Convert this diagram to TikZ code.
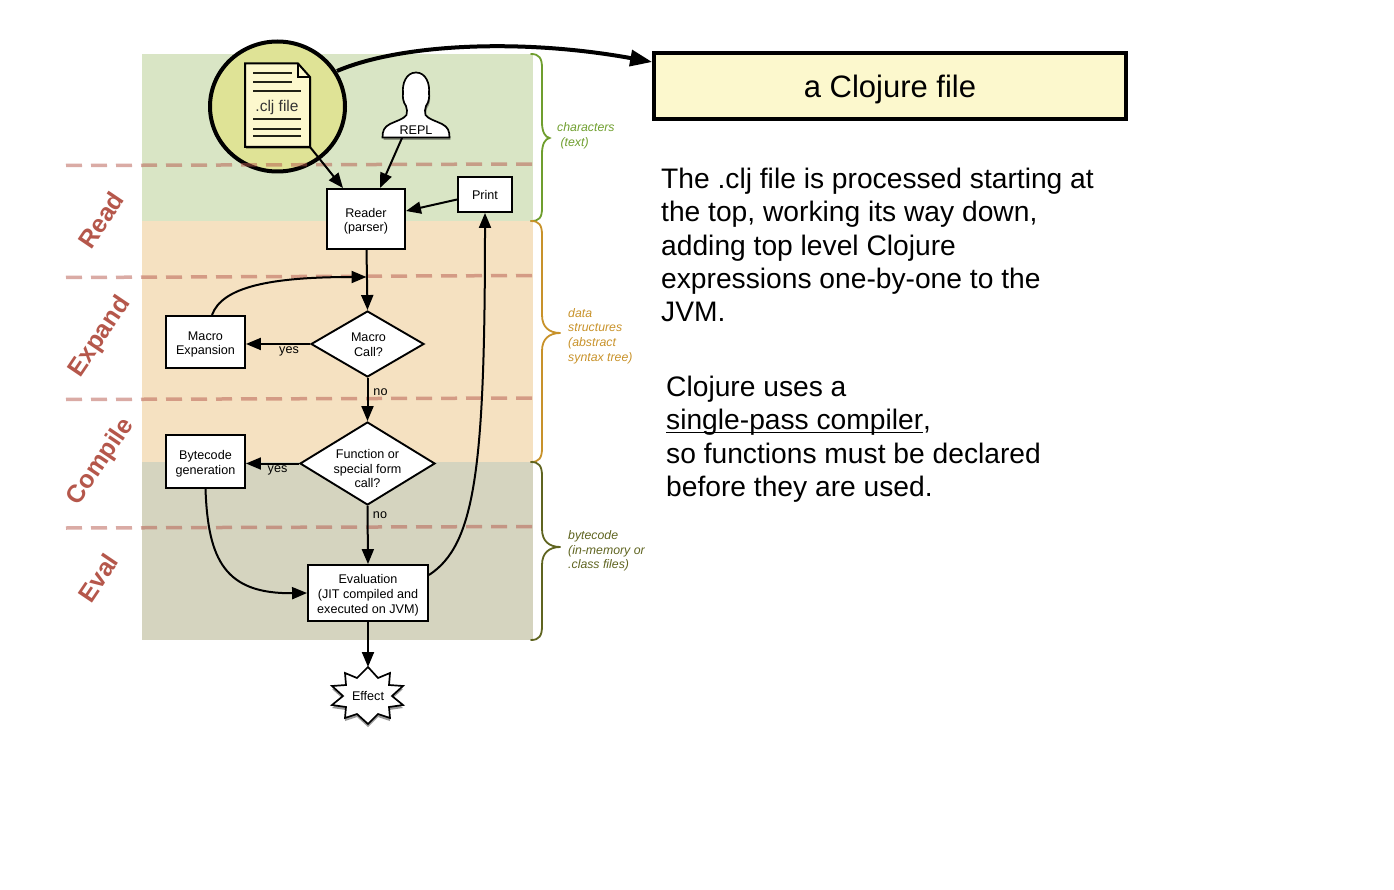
\documentclass[tikz,border=0pt]{standalone}
\usepackage{fontspec}
\setmainfont{Liberation Sans}
\usetikzlibrary{arrows.meta,shapes.geometric,shadows,calc}
\definecolor{bandgreen}{HTML}{D9E5C5}
\definecolor{bandorange}{HTML}{F5E1C1}
\definecolor{bandgrey}{HTML}{D5D4BF}
\definecolor{dashred}{HTML}{B5574B}
\definecolor{paleyellow}{HTML}{FCF8CD}
\definecolor{loupe}{HTML}{DFE396}
\definecolor{bracegreen}{HTML}{6F9E2E}
\definecolor{braceorange}{HTML}{C8922A}
\definecolor{braceolive}{HTML}{5F6420}
\newcommand{\lowered}[1]{\raisebox{0pt}[\dimexpr\height+5pt\relax][\depth]{\begin{tabular}{@{}c@{}}#1\end{tabular}}}
\newcommand{\lowline}[1]{\leavevmode\setbox0=\hbox{#1}\rlap{\rule[-3.4pt]{\wd0}{1.3pt}}\box0}
\tikzset{
  band/.style={draw=none},
  phase/.style={dashed,dash pattern=on 16pt off 9pt,draw=dashred,opacity=.5,line width=3.5pt},
  phasename/.style={text=dashred,font=\fontsize{25}{27}\selectfont\bfseries,rotate=56,inner sep=0pt},
  flowbox/.style={draw=black,fill=white,line width=1.9pt,inner sep=0pt,align=center,font=\fontsize{12.6}{14.6}\selectfont},
  decision/.style={diamond,draw=black,fill=white,line width=1.9pt,inner sep=0pt},
  flowtext/.style={align=center,inner sep=0pt,font=\fontsize{12.6}{14.6}\selectfont},
  flow/.style={draw=black,line width=2pt,-{Triangle[length=15pt,width=12pt]}},
  tag/.style={inner sep=0pt,font=\fontsize{12.6}{14}\selectfont},
  bracelabel/.style={inner sep=0pt,align=left,font=\fontsize{12.3}{14.7}\selectfont\itshape},
  bracepath/.style={line width=1.8pt,line cap=round},
  bodytext/.style={inner sep=0pt,align=left,anchor=north west,font=\fontsize{28.2}{33.2}\selectfont}
}
\begin{document}
\begin{tikzpicture}[x=1pt,y=-1pt]
\useasboundingbox (0,0) rectangle (1394,890);
% bands
\fill[band,bandgreen] (142,54) rectangle (533,221);
\fill[band,bandorange] (142,221) rectangle (533,462);
\fill[band,bandgrey] (142,462) rectangle (533,640);
% braces
\draw[bracepath,bracegreen] (531,54) .. controls (539,54) and (542,58) .. (542,68) -- (542,122) .. controls (542,132) and (545,137) .. (549.5,138) .. controls (545,139) and (542,144) .. (542,154) -- (542,208) .. controls (542,218) and (539,221) .. (531,221);
\draw[bracepath,braceorange] (531,221) .. controls (539,221) and (542,225) .. (542,235) -- (542,315) .. controls (542,327) and (549,333) .. (560.5,333) .. controls (549,333) and (542,339) .. (542,351) -- (542,448) .. controls (542,458) and (539,462) .. (531,462);
\draw[bracepath,braceolive] (531,462) .. controls (539,462) and (542,466) .. (542,476) -- (542,529) .. controls (542,541) and (549,547) .. (560.5,547) .. controls (549,547) and (542,553) .. (542,565) -- (542,626) .. controls (542,636) and (539,640) .. (531,640);
\node[bracelabel,text=bracegreen,anchor=west] (bl1) at (557,135.5) {characters\\\ (text)};
\node[bracelabel,text=braceorange,anchor=west] (bl2) at (568,336) {data\\structures\\(abstract\\syntax tree)};
\node[bracelabel,text=braceolive,anchor=west] (bl3) at (568,551) {bytecode\\(in-memory or\\.class files)};
% loupe and file
\draw[line width=4pt,fill=loupe] (277.5,106.5) ellipse (67.5 and 65);
\path[fill=paleyellow,draw=black,line width=2pt,line join=miter,drop shadow={shadow xshift=1pt,shadow yshift=-2pt,opacity=.3,fill=black}] (245,63.5) -- (298,63.5) -- (310,77) -- (310,147) -- (245,147) -- cycle;
\draw[line width=1.4pt] (298,63.5) -- (298,77) -- (310,77);
\foreach \yy/\xx in {72.7/292,81.7/292,91/301,119/301,128.7/301,136/301}
  \draw[line width=1.7pt,black!85!loupe] (253,\yy) -- (\xx,\yy);
\node[inner sep=0pt,font=\fontsize{15.5}{17}\selectfont,text=black!80] (cljfile) at (277,107) {.clj file};
\coordinate (filecorner) at (310,147);
% person
\path[fill=white,draw=black,line width=1.7pt,drop shadow={shadow xshift=1pt,shadow yshift=-2.5pt,opacity=.35,fill=black}]
  (382.5,137.5) .. controls (382.5,131) and (384,127) .. (390,124)
  .. controls (396,121) and (404,119) .. (406.5,115)
  .. controls (407.5,112) and (407,109) .. (406,106)
  .. controls (403,102) and (402.5,97) .. (403,93)
  .. controls (402,84) and (406,72.5) .. (416,72.5)
  .. controls (426,72.5) and (430,84) .. (429,93)
  .. controls (429.5,97) and (429,102) .. (426,106)
  .. controls (425,109) and (424.5,112) .. (425.5,115)
  .. controls (428,119) and (436,121) .. (442,124)
  .. controls (448,127) and (449.5,131) .. (449.5,137.5) -- cycle;
\node[tag] (repl) at (416,130) {REPL};
\coordinate (replfoot) at (402,138);
% starburst
\path[fill=white,draw=black,line width=1.7pt,line join=miter,drop shadow={shadow xshift=0pt,shadow yshift=-3pt,opacity=.4,fill=black}]
  (368,667) -- (378,678) -- (390,673) -- (389,685) -- (403,686) -- (392,696) -- (403,705) -- (389,707) -- (390,718) -- (378,714) -- (368,724) -- (357,714) -- (345,718) -- (346,707) -- (332,705) -- (343,696) -- (332,686) -- (346,685) -- (345,673) -- (357,678) -- cycle;
\node[tag] (effect) at (368,695.5) {Effect};
\coordinate (effecttop) at (368,667);
% boxes
\node[flowbox,minimum width=78pt,minimum height=60pt] (reader) at (366,219) {\lowered{Reader\\(parser)}};
\node[flowbox,minimum width=54pt,minimum height=35pt] (print) at (485,194.5) {Print};
\node[flowbox,minimum width=79pt,minimum height=52pt] (macroexp) at (205.5,342) {\lowered{Macro\\Expansion}};
\node[flowbox,minimum width=79pt,minimum height=53pt] (bytecode) at (205.5,461.5) {\lowered{Bytecode\\generation}};
\node[flowbox,minimum width=120pt,minimum height=56pt] (evaluation) at (368,593) {\lowered{Evaluation\\(JIT compiled and\\executed on JVM)}};
\node[decision,minimum width=113pt,minimum height=66pt,shape aspect=1.71] (macrocall) at (367.5,344) {};
\node[flowtext] (macrotext) at (368.5,345) {Macro\\Call?};
\node[decision,minimum width=135pt,minimum height=83pt,shape aspect=1.63] (funccall) at (367.5,463.5) {};
\node[flowtext] (functext) at (367.5,468.5) {Function or\\special form\\call?};
% phase lines and labels
\draw[phase] (66,165.5) -- (533,164);
\draw[phase] (66,277.5) -- (533,275.5);
\draw[phase] (66,399.5) -- (533,398);
\draw[phase] (66,528) -- (533,526.5);
\node[phasename] (read) at (101,220) {Read};
\node[phasename] (expand) at (100,337) {Expand};
\node[phasename] (compile) at (101,462) {Compile};
\node[phasename] (eval) at (98,578) {Eval};
% connectors
\coordinate (loopin) at (366.5,277);
\draw[flow] (filecorner) -- (reader.north west -| 343,189);
\draw[flow] (replfoot) -- (380,188);
\draw[flow] (print.west |- 0,199.5) -- (406,211);
\draw[flow] (reader.south -| 366.5,0) -- (macrocall.north);
\draw[flow] (macroexp.north -| 212,0) .. controls (222,287) and (270,277) .. (loopin);
\draw[flow] (macrocall.west) -- (macroexp.east |- macrocall.west);
\draw[flow] (macrocall.south) -- (funccall.north);
\draw[flow] (funccall.west) -- (bytecode.east |- funccall.west);
\draw[flow] (funccall.south) -- (evaluation.north);
\draw[flow] (bytecode.south) .. controls (208,560) and (225,594) .. (evaluation.west);
\draw[flow] (evaluation.east |- 0,575) .. controls (475,545) and (485,470) .. (print.south -| 485,0);
\draw[flow] (evaluation.south) -- (effecttop);
\node[tag] (yes1) at (289,351.5) {yes};
\node[tag] (no1) at (380.5,392) {no};
\node[tag] (yes2) at (277.5,470.5) {yes};
\node[tag] (no2) at (380,515) {no};
% clojure box
\node[draw=black,fill=paleyellow,line width=3.6pt,minimum width=472pt,minimum height=66pt,inner sep=0pt,font=\fontsize{31}{34}\selectfont] (clj) at (890,86) {\raisebox{0pt}[\dimexpr\height+6pt\relax][\depth]{a Clojure file}};
\coordinate (loupeedge) at (337,71);
\draw[line width=4pt,-{Triangle[length=22pt,width=16pt]}] (loupeedge) .. controls (400,44) and (520,38) .. (clj.west |- 0,62);
% body text
\node[bodytext] (para1) at (661,168) {The .clj file is processed starting at\\the top, working its way down,\\adding top level Clojure\\expressions one-by-one to the\\JVM.};
\node[bodytext] (para2) at (666,376) {Clojure uses a\\\lowline{single-pass compiler},\\so functions must be declared\\before they are used.};
\end{tikzpicture}
\end{document}
